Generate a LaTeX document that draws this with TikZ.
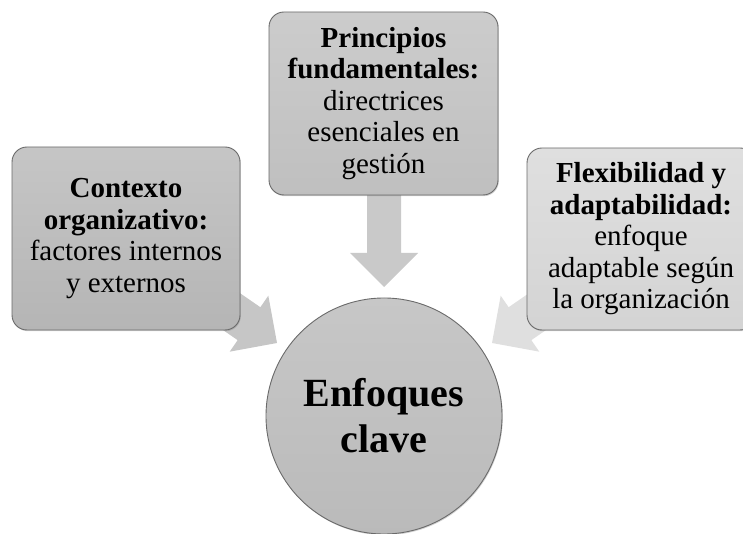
\documentclass[tikz,border=0pt]{standalone}
\usepackage{fontspec}
\setmainfont{Liberation Serif}
\usetikzlibrary{shadings,shadows}
\definecolor{arrL}{HTML}{C6C6C6}
\definecolor{arrT}{HTML}{C9C9C9}
\definecolor{arrR}{HTML}{DFDFDF}
\definecolor{edgegray}{HTML}{6A6A6A}
\begin{document}
\begin{tikzpicture}[x=1pt,y=1pt,
  boxtxt/.style={align=center, font=\fontsize{29}{31.5}\selectfont, text=black},
  pbox/.style={draw=edgegray, line width=0.9pt, rounded corners=15pt,
    drop shadow={opacity=0.35, shadow xshift=0.8pt, shadow yshift=-1.2pt}},
  hubnode/.style={circle, draw=edgegray, line width=0.9pt, minimum size=236pt, inner sep=0pt,
    align=center, font=\fontsize{40}{46}\selectfont\bfseries,
    drop shadow={opacity=0.35, shadow xshift=0.8pt, shadow yshift=-1.2pt}}
]
\useasboundingbox (0,0) rectangle (743,534);
\clip (0,0) rectangle (743,534);

% block arrows (drawn first, boxes cover their tails)
\begin{scope}[shift={(277,191)}, rotate=-34.6]
  \fill[arrL] (0,0) -- (-34,34) -- (-34,20) -- (-100,20) -- (-100,-20) -- (-34,-20) -- (-34,-34) -- cycle;
\end{scope}
\begin{scope}[shift={(384,247)}, rotate=-90]
  \fill[arrT] (0,0) -- (-34,34) -- (-34,17) -- (-93,17) -- (-93,-17) -- (-34,-17) -- (-34,-34) -- cycle;
\end{scope}
\begin{scope}[shift={(492,191)}, rotate=-145.4]
  \fill[arrR] (0,0) -- (-34,34) -- (-34,20) -- (-100,20) -- (-100,-20) -- (-34,-20) -- (-34,-34) -- cycle;
\end{scope}

% boxes
\node[pbox, boxtxt, minimum width=228pt, minimum height=183pt,
  top color=gray!45!white, bottom color=gray!58!white, inner sep=2pt] (ctx) at (126,295.5)
  {\textbf{Contexto}\\ \textbf{organizativo:}\\ factores internos\\ y externos};
\node[pbox, boxtxt, minimum width=229pt, minimum height=183pt,
  top color=gray!40!white, bottom color=gray!50!white, inner sep=2pt] (prin) at (383.5,430.5)
  {\textbf{Principios}\\ \textbf{fundamentales:}\\ directrices\\ esenciales en\\ gestión};
\node[pbox, boxtxt, minimum width=228pt, minimum height=182pt,
  top color=gray!25!white, bottom color=gray!34!white, inner sep=2pt] (flex) at (641,295)
  {\textbf{Flexibilidad y}\\ \textbf{adaptabilidad:}\\ enfoque\\ adaptable según\\ la organización};

% hub
\node[hubnode, top color=gray!44!white, bottom color=gray!54!white] (hub) at (384,118)
  {Enfoques\\ clave};
\end{tikzpicture}
\end{document}
